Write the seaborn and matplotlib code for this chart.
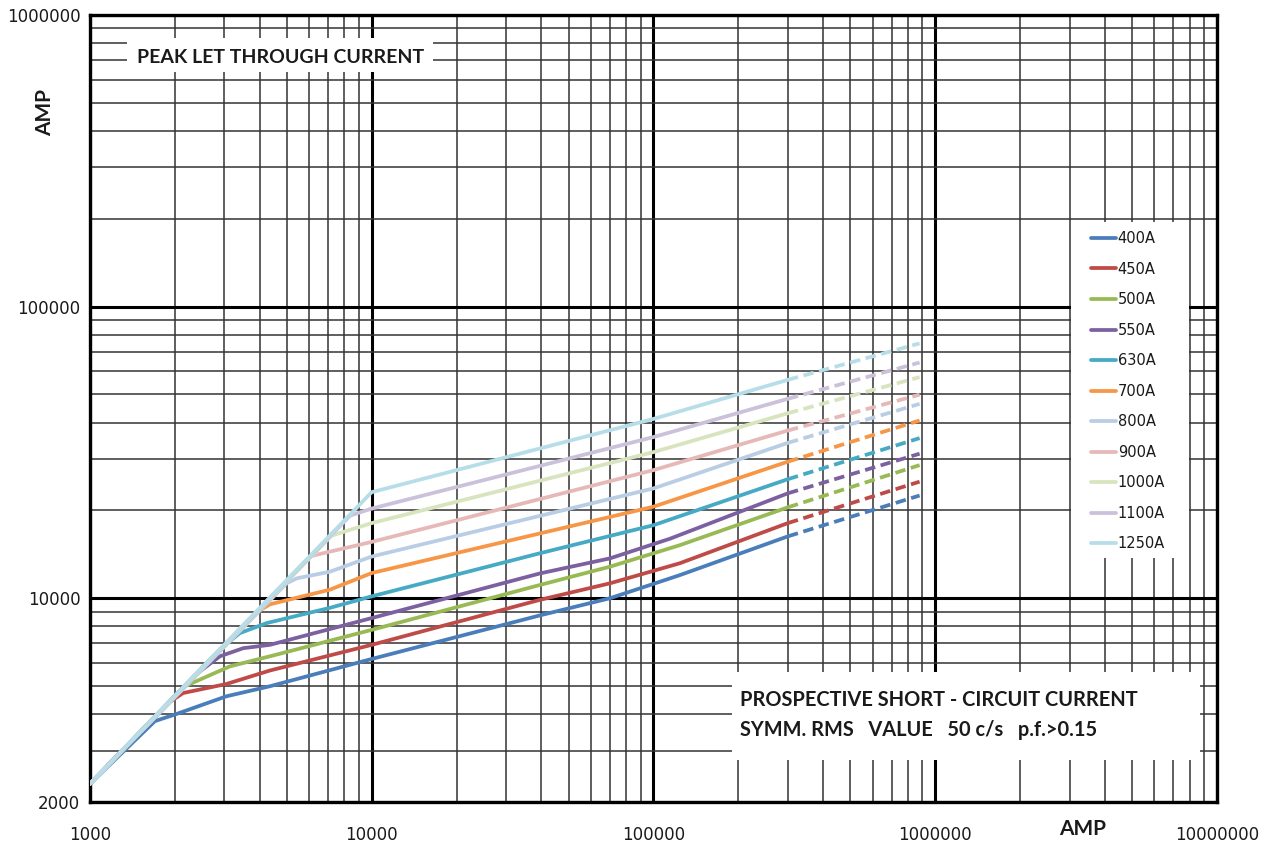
import numpy as np
import pandas as pd
import seaborn as sns
import matplotlib.pyplot as plt
from matplotlib.ticker import FixedLocator, FuncFormatter, NullFormatter
from matplotlib.patches import Rectangle

ratings = ["400A", "450A", "500A", "550A", "630A", "700A",
           "800A", "900A", "1000A", "1100A", "1250A"]
colors = ["#4a7ebb", "#be4b48", "#98b954", "#7d60a0", "#46aac5", "#f79646",
          "#b9cde5", "#e6b9b8", "#d7e4bd", "#ccc1da", "#b7dee8"]

# solid part of each curve (prospective A -> peak A)
x_400 = [1000, 1700, 2000, 3050, 4350, 10000, 39500, 70100, 100000, 124000, 300000]
y_400 = [2310, 3790, 3990, 4610, 4990, 6190, 8730, 10000, 11200, 12000, 16300]
x_450 = [1000, 1920, 2140, 3050, 4350, 10000, 39500, 70100, 124000, 300000]
y_450 = [2310, 4410, 4730, 5080, 5650, 6920, 9870, 11250, 13180, 18100]
x_500 = [1000, 2170, 3140, 4350, 10000, 39500, 70100, 124000, 300000]
y_500 = [2310, 4990, 5840, 6320, 7790, 11100, 12830, 15200, 20500]
x_550 = [1000, 2360, 2890, 3500, 4350, 10000, 39500, 70100, 114500, 300000]
y_550 = [2310, 5450, 6320, 6740, 6920, 8550, 12160, 13700, 16000, 22900]
x_630 = [1000, 2900, 3400, 4240, 7110, 10000, 39500, 100000, 300000]
y_630 = [2310, 6700, 7590, 8220, 9270, 10150, 14260, 17800, 25600]
x_700 = [1000, 3950, 4350, 7110, 10000, 100000, 300000]
y_700 = [2310, 9010, 9530, 10700, 12200, 20600, 29400]
x_800 = [1000, 4990, 5420, 7110, 10000, 100000, 300000]
y_800 = [2310, 11250, 11700, 12330, 13900, 23800, 34100]
x_900 = [1000, 6040, 6380, 10000, 100000, 300000]
y_900 = [2310, 13900, 14100, 15600, 27500, 37600]
x_1000 = [1000, 7210, 10000, 100000, 300000]
y_1000 = [2310, 16400, 18100, 31700, 43100]
x_1100 = [1000, 8380, 10000, 100000, 300000]
y_1100 = [2310, 19200, 20300, 35700, 48300]
x_1250 = [1000, 9860, 10000, 100000, 300000]
y_1250 = [2310, 22800, 23100, 41200, 56100]

# dashed extension end point
end_x = 880000
end_y = [22500, 25100, 28600, 31300, 35400, 40700, 46400, 49900, 57300, 64300, 74800]

solid_x = [x_400, x_450, x_500, x_550, x_630, x_700, x_800, x_900, x_1000, x_1100, x_1250]
solid_y = [y_400, y_450, y_500, y_550, y_630, y_700, y_800, y_900, y_1000, y_1100, y_1250]

rows, dash_rows = [], []
for r, xs, ys, ye in zip(ratings, solid_x, solid_y, end_y):
    for xv, yv in zip(xs, ys):
        rows.append((r, xv, yv))
    dash_rows.append((r, xs[-1], ys[-1]))
    dash_rows.append((r, end_x, ye))
df = pd.DataFrame(rows, columns=["rating", "x", "y"])
df_dash = pd.DataFrame(dash_rows, columns=["rating", "x", "y"])

sns.set_theme(style="white")
plt.rcParams["font.family"] = ["Lato", "DejaVu Sans"]
txt = "#1a1a1a"

fig = plt.figure(figsize=(12.71, 8.48), dpi=100)
ax = fig.add_axes([0.0708, 0.0542, 0.8867, 0.9281])
ax.set_xscale("log")
ax.set_yscale("log")
ax.set_xlim(1000, 1e7)
ax.set_ylim(2000, 1e6)

pal = dict(zip(ratings, colors))
sns.lineplot(data=df, x="x", y="y", hue="rating", hue_order=ratings, palette=pal,
             sort=False, estimator=None, lw=2.7, ax=ax, zorder=3)
sns.lineplot(data=df_dash, x="x", y="y", hue="rating", hue_order=ratings, palette=pal,
             sort=False, estimator=None, lw=2.7, linestyle=(0, (2.8, 1.5)),
             legend=False, ax=ax, zorder=3)

# ticks & grid
ax.xaxis.set_major_locator(FixedLocator([1e3, 1e4, 1e5, 1e6, 1e7]))
ax.xaxis.set_minor_locator(FixedLocator([m * d for d in [1e3, 1e4, 1e5, 1e6] for m in range(2, 10)]))
ax.yaxis.set_major_locator(FixedLocator([2000, 1e4, 1e5, 1e6]))
ax.yaxis.set_minor_locator(FixedLocator([m * d for d in [1e3, 1e4, 1e5] for m in range(2, 10) if m * d > 2000]))
fmt = FuncFormatter(lambda v, p: f"{v:.0f}")
ax.xaxis.set_major_formatter(fmt)
ax.yaxis.set_major_formatter(fmt)
ax.xaxis.set_minor_formatter(NullFormatter())
ax.yaxis.set_minor_formatter(NullFormatter())
ax.tick_params(axis="x", which="both", length=0, pad=17, labelsize=12, labelcolor=txt)
ax.tick_params(axis="y", which="both", length=0, pad=7, labelsize=12, labelcolor=txt)
for lab in ax.get_xticklabels() + ax.get_yticklabels():
    lab.set_fontfamily("DejaVu Sans")
ax.set_axisbelow(True)
ax.grid(which="major", color="black", lw=2.2)
ax.grid(which="minor", color="#333333", lw=1.1)
for s in ax.spines.values():
    s.set_color("black")
    s.set_linewidth(2.4)
ax.set_xlabel("")
ax.set_ylabel("")

# white boxes behind the annotations and legend
for (x0, y0, x1, y1) in [(0.0328, 0.9276, 0.3043, 0.9708),
                         (0.5697, 0.0534, 0.9850, 0.1650),
                         (0.8705, 0.3100, 0.9752, 0.7370)]:
    ax.add_patch(Rectangle((x0, y0), x1 - x0, y1 - y0, transform=ax.transAxes,
                           facecolor="white", edgecolor="none", zorder=1.5))

ax.text(0.1695, 0.9466, "PEAK LET THROUGH CURRENT", transform=ax.transAxes,
        ha="center", va="center", fontsize=14, fontweight="bold", color=txt, zorder=4)
ax.text(0.5768, 0.1296, "PROSPECTIVE SHORT - CIRCUIT CURRENT", transform=ax.transAxes,
        ha="left", va="center", fontsize=14.4, fontweight="bold", color=txt, zorder=4)
ax.text(0.5768, 0.0915, "SYMM. RMS   VALUE   50 c/s   p.f.>0.15", transform=ax.transAxes,
        ha="left", va="center", fontsize=14.4, fontweight="bold", color=txt, zorder=4)

fig.text(1083 / 1271, 1 - 829 / 848, "AMP", ha="center", va="center",
         fontsize=15, fontweight="bold", color=txt)
fig.text(45 / 1271, 1 - 112 / 848, "AMP", ha="center", va="center", rotation=90,
         fontsize=15, fontweight="bold", color=txt)

leg = ax.legend(loc="upper left", bbox_to_anchor=(0.888, 0.7255), frameon=False,
                prop={"family": "DejaVu Sans", "size": 10.5},
                handlelength=1.75, handletextpad=0.1, labelspacing=1.065,
                borderpad=0, borderaxespad=0)
for t in leg.get_texts():
    t.set_color(txt)
leg.set_zorder(5)

fig.savefig("out.png", dpi=100)
